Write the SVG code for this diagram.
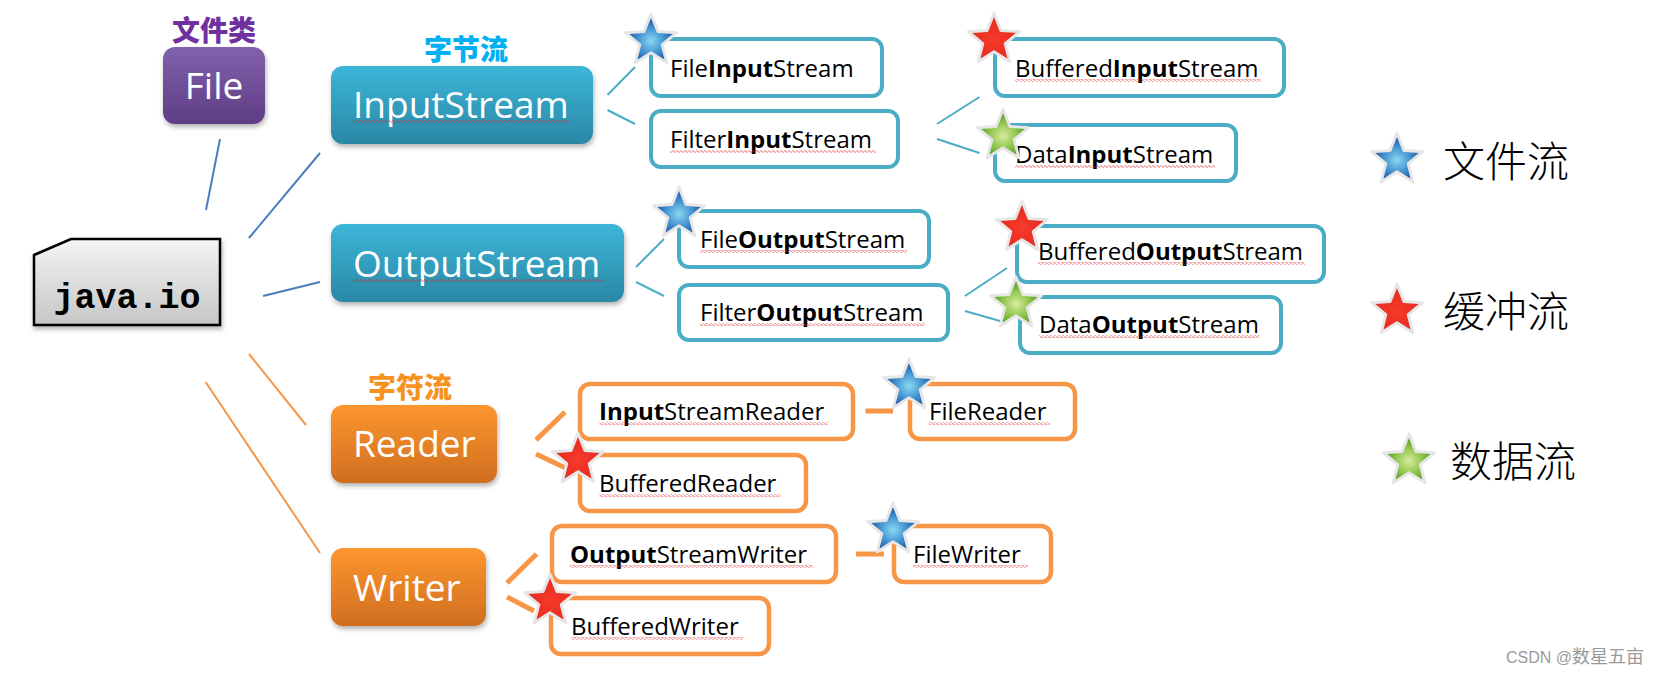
<svg xmlns="http://www.w3.org/2000/svg" xmlns:xlink="http://www.w3.org/1999/xlink" width="1657" height="675" viewBox="0 0 1657 675">
<style>
.bt{font-family:"Open Sans","Noto Sans",sans-serif;font-size:24px;fill:#000}
.bt .b{font-weight:bold}
.big{font-family:"Open Sans","Noto Sans",sans-serif;font-size:37px;fill:#fff}
.cjkt{font-family:"Noto Sans CJK SC",sans-serif;font-weight:900;font-size:28px}
.leg{font-family:"Noto Sans CJK SC",sans-serif;font-weight:300;font-size:42px;fill:#000}
.tb{fill:#fff;stroke:#4bacc6;stroke-width:4}
.ob{fill:#fff;stroke:#f79646;stroke-width:4.5}
.lb{stroke:#4a7ebb;stroke-width:2;fill:none}
.lt{stroke:#4bacc6;stroke-width:2;fill:none}
.lo{stroke:#f79646;stroke-width:2;fill:none}
.lo5{stroke:#f79646;stroke-width:5;fill:none}
.sq{fill:url(#sq)}
.st{stroke:#e6e6e6;stroke-width:2.6;stroke-linejoin:round}
</style>
<defs>
<linearGradient id="gTeal" x1="0" y1="0" x2="0" y2="1"><stop offset="0" stop-color="#3db6d9"/><stop offset="1" stop-color="#2987a4"/></linearGradient>
<linearGradient id="gOrange" x1="0" y1="0" x2="0" y2="1"><stop offset="0" stop-color="#fc962f"/><stop offset="1" stop-color="#d06e1f"/></linearGradient>
<linearGradient id="gPurple" x1="0" y1="0" x2="0" y2="1"><stop offset="0" stop-color="#8262ad"/><stop offset="1" stop-color="#5e3c84"/></linearGradient>
<linearGradient id="gGray" x1="0" y1="0" x2="0" y2="1"><stop offset="0" stop-color="#f4f4f4"/><stop offset="1" stop-color="#c6c6c6"/></linearGradient>
<radialGradient id="gBlue" cx="0.5" cy="0.55" r="0.55"><stop offset="0" stop-color="#8ad8f0"/><stop offset="0.5" stop-color="#3f8fd0"/><stop offset="1" stop-color="#14388e"/></radialGradient>
<radialGradient id="gRed" cx="0.5" cy="0.55" r="0.55"><stop offset="0" stop-color="#f63a2b"/><stop offset="1" stop-color="#e2291d"/></radialGradient>
<radialGradient id="gGreen" cx="0.5" cy="0.55" r="0.55"><stop offset="0" stop-color="#d8eb9e"/><stop offset="0.5" stop-color="#8cc44a"/><stop offset="1" stop-color="#3c8816"/></radialGradient>
<path id="star" d="M0,-24 L6.17,-8.49 L22.83,-7.42 L9.99,3.24 L14.11,19.42 L0,10.5 L-14.11,19.42 L-9.99,3.24 L-22.83,-7.42 L-6.17,-8.49 Z"/>
<pattern id="sq" width="4" height="3" patternUnits="userSpaceOnUse"><path d="M0,1.5 L1,0.5 L3,2.5 L4,1.5" stroke="#e02020" stroke-width="0.8" fill="none"/></pattern>
<filter id="sh" x="-10%" y="-10%" width="125%" height="130%"><feDropShadow dx="1" dy="3" stdDeviation="2.5" flood-color="#000" flood-opacity="0.3"/></filter>
</defs>
<rect width="1657" height="675" fill="#fff"/>

<g id="connectors">
<line class="lb" x1="220" y1="139" x2="206" y2="210"/>
<line class="lb" x1="249" y1="238" x2="320" y2="153"/>
<line class="lb" x1="263" y1="296" x2="320" y2="282"/>
<line class="lo" x1="249" y1="354" x2="306" y2="425"/>
<line class="lo" x1="205.6" y1="382" x2="320" y2="553"/>
<line class="lt" x1="607.5" y1="95" x2="635" y2="67"/>
<line class="lt" x1="607.5" y1="110" x2="635" y2="124"/>
<line class="lt" x1="937" y1="124" x2="979.5" y2="97"/>
<line class="lt" x1="937" y1="139" x2="979.5" y2="153"/>
<line class="lt" x1="636" y1="267" x2="664" y2="239"/>
<line class="lt" x1="636" y1="282" x2="664" y2="296"/>
<line class="lt" x1="965" y1="296" x2="1007" y2="268"/>
<line class="lt" x1="965" y1="311" x2="1007" y2="323"/>
<line class="lo5" x1="536" y1="440" x2="565" y2="412"/>
<line class="lo5" x1="536" y1="454" x2="565.5" y2="468"/>
<line class="lo5" x1="865.5" y1="411" x2="893" y2="411"/>
<line class="lo5" x1="507" y1="583" x2="536.6" y2="554"/>
<line class="lo5" x1="507" y1="597" x2="534" y2="611"/>
<line class="lo5" x1="856" y1="554" x2="884" y2="554"/>
</g>

<g id="java-io">
<polygon points="34,255 71,239 220,239 220,325 34,325" fill="url(#gGray)" stroke="#000" stroke-width="2.5" filter="url(#sh)"/>
<text x="127" y="308" text-anchor="middle" font-family="'Liberation Mono',monospace" font-weight="bold" font-size="35" fill="#000">java.io</text>
</g>

<g id="file">
<text class="cjkt" x="214" y="41" text-anchor="middle" fill="#7030a0">文件类</text>
<rect x="163" y="47" width="102" height="77" rx="12" fill="url(#gPurple)" filter="url(#sh)"/>
<text class="big" x="214" y="99" text-anchor="middle" font-size="36">File</text>
</g>

<g id="inputstream">
<text class="cjkt" x="466" y="60" text-anchor="middle" fill="#00b0f0">字节流</text>
<rect x="331" y="66" width="262" height="78" rx="12" fill="url(#gTeal)" filter="url(#sh)"/>
<text class="big" x="353" y="118">InputStream</text>
<rect class="sq" x="353" y="120" width="216" height="3"/>
</g>

<g id="outputstream">
<rect x="331" y="224" width="293" height="78" rx="12" fill="url(#gTeal)" filter="url(#sh)"/>
<text class="big" x="353" y="277">OutputStream</text>
<rect class="sq" x="353" y="279" width="251" height="3"/>
</g>

<g id="reader">
<text class="cjkt" x="410" y="398" text-anchor="middle" fill="#f6931f">字符流</text>
<rect x="331" y="405" width="166" height="78" rx="12" fill="url(#gOrange)" filter="url(#sh)"/>
<text class="big" x="353" y="457">Reader</text>
</g>

<g id="writer">
<rect x="331" y="548" width="155" height="78" rx="12" fill="url(#gOrange)" filter="url(#sh)"/>
<text class="big" x="353" y="601">Writer</text>
</g>

<g id="fileinputstream">
<rect class="tb" x="651" y="39" width="231" height="57" rx="10"/>
<text class="bt" x="670" y="77">File<tspan class="b">Input</tspan>Stream</text>
</g>
<g id="filterinputstream">
<rect class="tb" x="651" y="111" width="247" height="56" rx="10"/>
<text class="bt" x="670" y="148">Filter<tspan class="b">Input</tspan>Stream</text>
<rect class="sq" x="670" y="150" width="206" height="3"/>
</g>
<g id="bufferedinputstream">
<rect class="tb" x="995" y="39" width="289" height="57" rx="10"/>
<text class="bt" x="1015" y="77">Buffered<tspan class="b">Input</tspan>Stream</text>
<rect class="sq" x="1015" y="79" width="246" height="3"/>
</g>
<g id="datainputstream">
<rect class="tb" x="995" y="125" width="241" height="56" rx="10"/>
<text class="bt" x="1015" y="163">Data<tspan class="b">Input</tspan>Stream</text>
<rect class="sq" x="1015" y="165" width="200" height="3"/>
</g>
<g id="fileoutputstream">
<rect class="tb" x="679" y="211" width="250" height="56" rx="10"/>
<text class="bt" x="700" y="248">File<tspan class="b">Output</tspan>Stream</text>
<rect class="sq" x="700" y="250" width="207" height="3"/>
</g>
<g id="filteroutputstream">
<rect class="tb" x="679" y="285" width="269" height="55" rx="10"/>
<text class="bt" x="700" y="321">Filter<tspan class="b">Output</tspan>Stream</text>
<rect class="sq" x="700" y="323" width="225" height="3"/>
</g>
<g id="bufferedoutputstream">
<rect class="tb" x="1017" y="226" width="307" height="56" rx="10"/>
<text class="bt" x="1038" y="260">Buffered<tspan class="b">Output</tspan>Stream</text>
<rect class="sq" x="1038" y="262" width="267" height="3"/>
</g>
<g id="dataoutputstream">
<rect class="tb" x="1020" y="297" width="261" height="56" rx="10"/>
<text class="bt" x="1039" y="333">Data<tspan class="b">Output</tspan>Stream</text>
<rect class="sq" x="1039" y="335" width="221" height="3"/>
</g>

<g id="inputstreamreader">
<rect class="ob" x="580" y="384" width="273" height="55" rx="10"/>
<text class="bt" x="599" y="420"><tspan class="b">Input</tspan>StreamReader</text>
<rect class="sq" x="599" y="422" width="229" height="3"/>
</g>
<g id="filereader">
<rect class="ob" x="910" y="384" width="165" height="55" rx="10"/>
<text class="bt" x="929" y="420">FileReader</text>
<rect class="sq" x="929" y="422" width="121" height="3"/>
</g>
<g id="bufferedreader">
<rect class="ob" x="580" y="455" width="226" height="56" rx="10"/>
<text class="bt" x="599" y="492">BufferedReader</text>
<rect class="sq" x="599" y="494" width="182" height="3"/>
</g>
<g id="outputstreamwriter">
<rect class="ob" x="552" y="526" width="284" height="56" rx="10"/>
<text class="bt" x="570" y="563"><tspan class="b">Output</tspan>StreamWriter</text>
<rect class="sq" x="570" y="565" width="243" height="3"/>
</g>
<g id="filewriter">
<rect class="ob" x="894" y="526" width="157" height="56" rx="10"/>
<text class="bt" x="913" y="563">FileWriter</text>
<rect class="sq" x="913" y="565" width="115" height="3"/>
</g>
<g id="bufferedwriter">
<rect class="ob" x="551" y="598" width="218" height="56" rx="10"/>
<text class="bt" x="571" y="635">BufferedWriter</text>
<rect class="sq" x="571" y="637" width="172" height="3"/>
</g>

<g id="stars">
<use href="#star" class="st" fill="url(#gBlue)" transform="translate(651,41) scale(1.12)"/>
<use href="#star" class="st" fill="url(#gRed)" transform="translate(994,40) scale(1.12)"/>
<use href="#star" class="st" fill="url(#gGreen)" transform="translate(1003,136) scale(1.12)"/>
<use href="#star" class="st" fill="url(#gBlue)" transform="translate(679,214) scale(1.12)"/>
<use href="#star" class="st" fill="url(#gRed)" transform="translate(1022,228) scale(1.12)"/>
<use href="#star" class="st" fill="url(#gGreen)" transform="translate(1016,304) scale(1.12)"/>
<use href="#star" class="st" fill="url(#gBlue)" transform="translate(909,386) scale(1.12)"/>
<use href="#star" class="st" fill="url(#gRed)" transform="translate(578,460) scale(1.12)"/>
<use href="#star" class="st" fill="url(#gBlue)" transform="translate(893,530) scale(1.12)"/>
<use href="#star" class="st" fill="url(#gRed)" transform="translate(550,601) scale(1.12)"/>
</g>

<g id="legend">
<use href="#star" class="st" fill="url(#gBlue)" transform="translate(1397,160) scale(1.12)"/>
<text class="leg" x="1443" y="177">文件流</text>
<use href="#star" class="st" fill="url(#gRed)" transform="translate(1397,311) scale(1.12)"/>
<text class="leg" x="1443" y="327">缓冲流</text>
<use href="#star" class="st" fill="url(#gGreen)" transform="translate(1409,461) scale(1.12)"/>
<text class="leg" x="1450" y="477">数据流</text>
</g>

<text x="1506" y="663" font-family="'Liberation Sans','Noto Sans CJK SC',sans-serif" font-size="16" fill="#9a9a9a">CSDN @<tspan font-family="'Noto Sans CJK SC',sans-serif" font-size="18">数星五亩</tspan></text>
</svg>
